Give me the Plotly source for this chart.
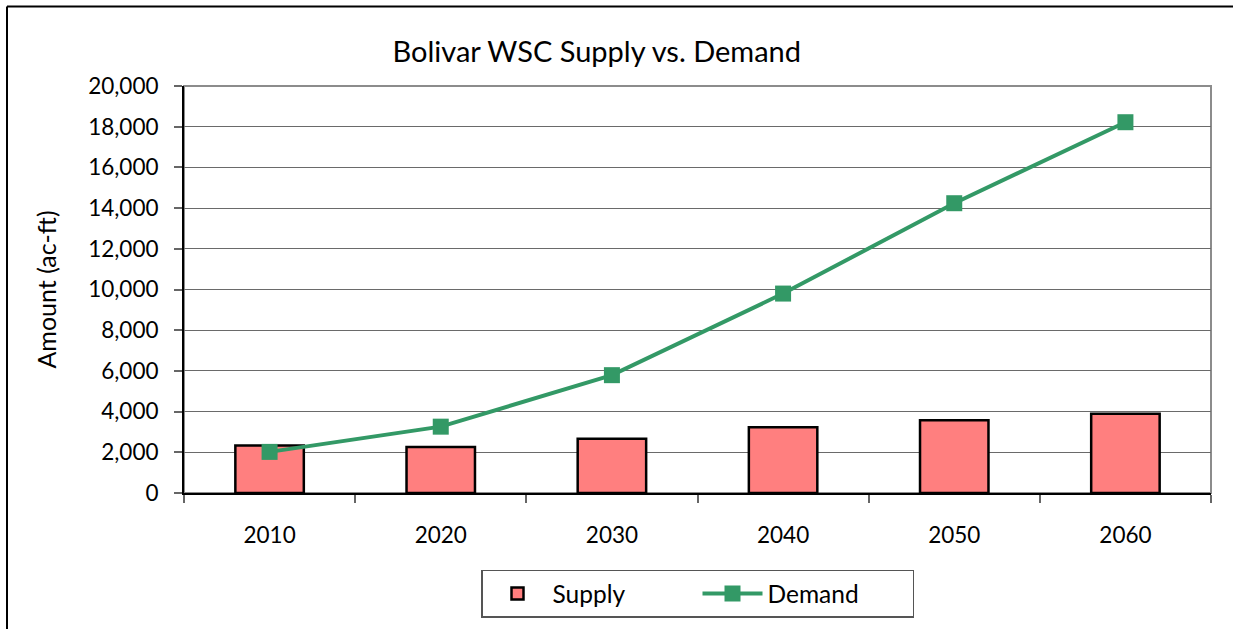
import plotly.graph_objects as go

years = ["2010", "2020", "2030", "2040", "2050", "2060"]
supply = [2330, 2260, 2670, 3230, 3570, 3890]
demand = [2020, 3260, 5790, 9800, 14240, 18220]
y_ticks = [0, 2000, 4000, 6000, 8000, 10000, 12000, 14000, 16000, 18000, 20000]

FONT = "Lato"
W, H = 1233, 629
L, R, T, B = 184, 22, 86, 134
PW, PH = W - L - R, H - T - B

fig = go.Figure()
fig.add_trace(go.Bar(
    x=years, y=supply, name="Supply",
    marker=dict(color="#FF7F7F", line=dict(color="black", width=2.5)),
))
fig.add_trace(go.Scatter(
    x=years, y=demand, name="Demand", mode="lines+markers",
    line=dict(color="#339966", width=4),
    marker=dict(symbol="square", size=16, color="#339966"),
))

fig.update_layout(
    width=W, height=H,
    margin=dict(l=L, r=R, t=T, b=B),
    paper_bgcolor="white", plot_bgcolor="white",
    font=dict(family=FONT, size=22, color="black"),
    bargap=0.6,
    showlegend=True,
    title=dict(text="Bolivar WSC Supply vs. Demand", x=0.484, xanchor="center",
               y=0.917, yanchor="middle", font=dict(size=29, family=FONT)),
    legend=dict(orientation="h", x=0.5, xanchor="center", y=-0.188, yanchor="top",
                bordercolor="#555555", borderwidth=1.5, font=dict(size=24.5),
                entrywidth=140, itemwidth=60),
    shapes=[
        dict(type="rect", xref="paper", yref="paper", x0=0, x1=1, y0=0, y1=1,
             line=dict(color="#8c8c8c", width=2), layer="below"),
        dict(type="line", xref="paper", yref="paper", x0=(7 - L) / PW, x1=1.3,
             y0=(H - B - 6) / PH, y1=(H - B - 6) / PH, line=dict(color="black", width=2)),
        dict(type="line", xref="paper", yref="paper", x0=(7 - L) / PW, x1=(7 - L) / PW,
             y0=(H - B - 6) / PH, y1=-0.5, line=dict(color="black", width=2)),
    ],
)
fig.update_xaxes(
    type="category", showline=True, linecolor="black", linewidth=2,
    ticks="outside", tickson="boundaries", ticklen=8, tickcolor="#666666",
    tickwidth=1.5, ticklabelstandoff=21, showgrid=False,
    tickfont=dict(size=22.5),
)
fig.update_yaxes(
    range=[0, 20000], tickvals=y_ticks, tickformat=",d",
    showline=True, linecolor="black", linewidth=2,
    ticks="outside", ticklen=8, tickcolor="#666666", tickwidth=1.5,
    ticklabelstandoff=11,
    showgrid=True, gridcolor="#6a6a6a", gridwidth=1, zeroline=False,
    tickfont=dict(size=22.5),
    title=dict(text="Amount (ac-ft)", font=dict(size=25), standoff=24),
)

fig.write_html("out.html", config={"displayModeBar": False},
               post_script="document.body.style.margin='0';")
